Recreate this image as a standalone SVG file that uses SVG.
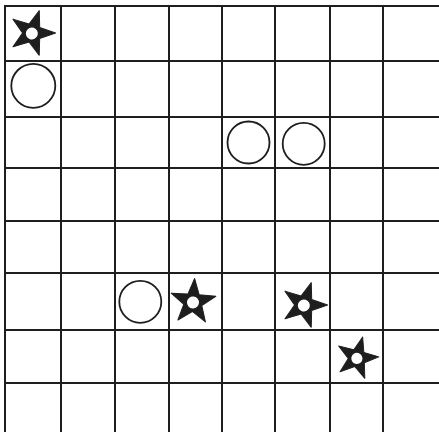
<svg xmlns="http://www.w3.org/2000/svg" xmlns:xlink="http://www.w3.org/1999/xlink" width="439" height="432" viewBox="0 0 439 432">
<style>
.grid line{stroke:#1e1e1e;stroke-width:2;stroke-linecap:square}
.ring{fill:none;stroke:#1e1e1e;stroke-width:1.8}
.starbody{fill:#1e1e1e;stroke:#1e1e1e;stroke-width:1;stroke-linejoin:round}
.hole{fill:#ffffff}
</style>
<defs>
<g id="star">
<polygon class="starbody" points="0,-23.5 5.6,-7.7 22.4,-7.3 9,2.9 13.8,19 0,9.5 -13.8,19 -9,2.9 -22.4,-7.3 -5.6,-7.7"/>
<circle class="hole" cx="0" cy="0.5" r="6"/>
</g>
</defs>
<rect x="0" y="0" width="439" height="432" fill="#ffffff"/>
<g id="connectors" class="grid">
<line x1="5" y1="6" x2="439" y2="6"/>
<line x1="5" y1="61" x2="439" y2="61"/>
<line x1="5" y1="117" x2="439" y2="117"/>
<line x1="5" y1="168" x2="439" y2="168"/>
<line x1="5" y1="221" x2="439" y2="221"/>
<line x1="5" y1="273" x2="439" y2="273"/>
<line x1="5" y1="330" x2="439" y2="330"/>
<line x1="5" y1="383" x2="439" y2="383"/>
<line x1="5" y1="6" x2="5" y2="432"/>
<line x1="61" y1="6" x2="61" y2="432"/>
<line x1="115" y1="6" x2="115" y2="432"/>
<line x1="169" y1="6" x2="169" y2="432"/>
<line x1="222" y1="6" x2="222" y2="432"/>
<line x1="275" y1="6" x2="275" y2="432"/>
<line x1="330" y1="6" x2="330" y2="432"/>
<line x1="383" y1="6" x2="383" y2="432"/>
</g>
<g id="star1"><use xlink:href="#star" href="#star" transform="translate(32,33) rotate(18)"/></g>
<g id="circle1"><circle class="ring" cx="33.3" cy="85.8" r="22"/></g>
<g id="circle2"><circle class="ring" cx="248.5" cy="142.5" r="21"/></g>
<g id="circle3"><circle class="ring" cx="303.7" cy="143.8" r="21"/></g>
<g id="circle4"><circle class="ring" cx="140.3" cy="301.8" r="21"/></g>
<g id="star2"><use xlink:href="#star" href="#star" transform="translate(193,302) rotate(4)"/></g>
<g id="star3"><use xlink:href="#star" href="#star" transform="translate(304,305) rotate(18)"/></g>
<g id="star4"><use xlink:href="#star" href="#star" transform="translate(357,358) rotate(15) scale(0.93)"/></g>
</svg>
